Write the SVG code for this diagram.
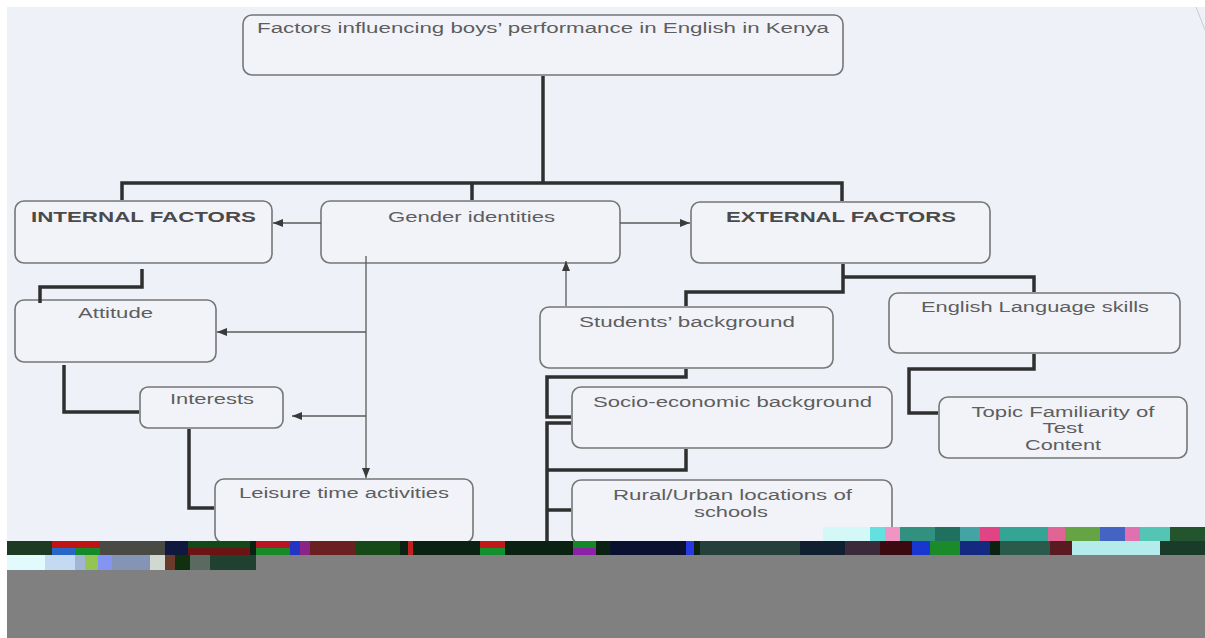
<svg xmlns="http://www.w3.org/2000/svg" width="1205" height="638" viewBox="0 0 1205 638">
<defs>
<marker id="ah" viewBox="0 0 10 8" refX="10" refY="4" markerWidth="11" markerHeight="8" markerUnits="userSpaceOnUse" orient="auto"><path d="M0,0 L10,4 L0,8 z" fill="#3a3a3a"/></marker>
</defs>
<style>
.box{fill:#f1f3f8;stroke:#767676;stroke-width:1.6}
.t{font-family:"Liberation Sans",Arial,sans-serif;font-size:14px;fill:#5e5e5e;text-anchor:middle}
.b{font-weight:bold;fill:#4a4a4a}
.thick{fill:none;stroke:#2f2f2f;stroke-width:3.5;stroke-linejoin:miter}
.thin{fill:none;stroke:#5a5a5a;stroke-width:1.3}
</style>
<rect x="0" y="0" width="1205" height="638" fill="#ffffff"/>
<rect x="7" y="7" width="1198" height="534" fill="#eef1f7"/>
<path d="M1196 7 L1205 30" stroke="#c8ccd4" stroke-width="1"/>

<g id="n-title"><rect class="box" x="243" y="15" width="600" height="60" rx="9"/><text class="t" x="543" y="33" textLength="572" lengthAdjust="spacingAndGlyphs">Factors influencing boys’ performance in English in Kenya</text></g>
<g id="n-internal"><rect class="box" x="15" y="201" width="257" height="62" rx="9"/><text class="t b" x="143.5" y="222" textLength="225" lengthAdjust="spacingAndGlyphs">INTERNAL FACTORS</text></g>
<g id="n-gender"><rect class="box" x="321" y="201" width="299" height="62" rx="9"/><text class="t" x="471.5" y="222" textLength="167" lengthAdjust="spacingAndGlyphs">Gender identities</text></g>
<g id="n-external"><rect class="box" x="691" y="202" width="299" height="61" rx="9"/><text class="t b" x="841" y="222" textLength="230" lengthAdjust="spacingAndGlyphs">EXTERNAL FACTORS</text></g>
<g id="n-attitude"><rect class="box" x="15" y="300" width="201" height="62" rx="9"/><text class="t" x="115.5" y="318" textLength="75" lengthAdjust="spacingAndGlyphs">Attitude</text></g>
<g id="n-interests"><rect class="box" x="140" y="387" width="143" height="41" rx="8"/><text class="t" x="212" y="404" textLength="84" lengthAdjust="spacingAndGlyphs">Interests</text></g>
<g id="n-leisure"><rect class="box" x="215" y="479" width="258" height="64" rx="9"/><text class="t" x="344" y="498" textLength="210" lengthAdjust="spacingAndGlyphs">Leisure time activities</text></g>
<g id="n-students"><rect class="box" x="540" y="307" width="293" height="61" rx="9"/><text class="t" x="687" y="327" textLength="216" lengthAdjust="spacingAndGlyphs">Students’ background</text></g>
<g id="n-socio"><rect class="box" x="572" y="387" width="320" height="61" rx="9"/><text class="t" x="732.5" y="407" textLength="279" lengthAdjust="spacingAndGlyphs">Socio-economic background</text></g>
<g id="n-rural"><rect class="box" x="572" y="480" width="320" height="64" rx="9"/><text class="t" x="732.5" y="500" textLength="239" lengthAdjust="spacingAndGlyphs">Rural/Urban locations of</text><text class="t" x="731" y="517" textLength="74" lengthAdjust="spacingAndGlyphs">schools</text></g>
<g id="n-english"><rect class="box" x="889" y="293" width="291" height="60" rx="9"/><text class="t" x="1035" y="312" textLength="228" lengthAdjust="spacingAndGlyphs">English Language skills</text></g>
<g id="n-topic"><rect class="box" x="939" y="397" width="248" height="61" rx="9"/><text class="t" x="1063" y="417" textLength="183" lengthAdjust="spacingAndGlyphs">Topic Familiarity of</text><text class="t" x="1063" y="433" textLength="41" lengthAdjust="spacingAndGlyphs">Test</text><text class="t" x="1063" y="450" textLength="76" lengthAdjust="spacingAndGlyphs">Content</text></g>

<g id="connectors">
<path class="thick" d="M543 76 V183"/>
<path class="thick" d="M122 200 V183 H842 V201"/>
<path class="thick" d="M472 183 V200"/>
<path class="thick" d="M142 269 V287 H40 V303"/>
<path class="thick" d="M64 365 V412 H139"/>
<path class="thick" d="M189 429 V508 H214"/>
<path class="thick" d="M843 264 V292 H686 V306"/>
<path class="thick" d="M843 277 H1034 V292"/>
<path class="thick" d="M686 369 V377 H547 V417 H571"/>
<path class="thick" d="M571 423 H547 V541"/>
<path class="thick" d="M686 449 V470 H547"/>
<path class="thick" d="M547 510 H571"/>
<path class="thick" d="M1034 354 V369 H909 V413 H938"/>
<path class="thin" d="M321 223 H273" marker-end="url(#ah)"/>
<path class="thin" d="M620 223 H690" marker-end="url(#ah)"/>
<path class="thin" d="M366 256 V478" marker-end="url(#ah)"/>
<path class="thin" d="M366 332 H217" marker-end="url(#ah)"/>
<path class="thin" d="M366 416 H292" marker-end="url(#ah)"/>
<path class="thin" d="M566 306 V261" marker-end="url(#ah)"/>
</g>

<g id="scan-damage">
<rect x="7" y="555" width="1198" height="83" fill="#808080"/>
<rect x="7" y="541" width="1198" height="14" fill="#0b2212"/>
<rect x="7" y="541" width="45" height="14" fill="#1d3a22"/>
<rect x="52" y="541" width="48" height="7" fill="#c01414"/>
<rect x="52" y="548" width="23" height="7" fill="#2a66c8"/>
<rect x="75" y="548" width="25" height="7" fill="#148a2a"/>
<rect x="100" y="541" width="65" height="14" fill="#4a4a44"/>
<rect x="165" y="541" width="23" height="14" fill="#101840"/>
<rect x="188" y="541" width="62" height="7" fill="#114a18"/>
<rect x="188" y="548" width="62" height="7" fill="#6a1414"/>
<rect x="256" y="541" width="34" height="7" fill="#b81424"/>
<rect x="256" y="548" width="34" height="7" fill="#168a26"/>
<rect x="290" y="541" width="10" height="14" fill="#2434c4"/>
<rect x="300" y="541" width="10" height="14" fill="#8a2488"/>
<rect x="310" y="541" width="45" height="14" fill="#6a2020"/>
<rect x="355" y="541" width="45" height="14" fill="#154a18"/>
<rect x="408" y="541" width="5" height="14" fill="#c02020"/>
<rect x="480" y="541" width="25" height="7" fill="#c41818"/>
<rect x="480" y="548" width="25" height="7" fill="#12902e"/>
<rect x="573" y="541" width="23" height="7" fill="#128a24"/>
<rect x="573" y="548" width="23" height="7" fill="#8a22a6"/>
<rect x="610" y="541" width="76" height="14" fill="#0a1030"/>
<rect x="686" y="541" width="8" height="14" fill="#2838e0"/>
<rect x="700" y="541" width="100" height="14" fill="#25403a"/>
<rect x="800" y="541" width="45" height="14" fill="#102030"/>
<rect x="845" y="541" width="35" height="14" fill="#3a2a3a"/>
<rect x="880" y="541" width="32" height="14" fill="#3a0a10"/>
<rect x="912" y="541" width="18" height="14" fill="#1a36d0"/>
<rect x="930" y="541" width="30" height="14" fill="#1a8a2a"/>
<rect x="960" y="541" width="30" height="14" fill="#142a80"/>
<rect x="1000" y="541" width="50" height="14" fill="#2a5a4a"/>
<rect x="1050" y="541" width="22" height="14" fill="#5a1a22"/>
<rect x="1072" y="541" width="88" height="14" fill="#b4ecec"/>
<rect x="1160" y="541" width="45" height="14" fill="#1a3a2a"/>
<rect x="823" y="527" width="47" height="14" fill="#d4f8f8"/>
<rect x="870" y="527" width="15" height="14" fill="#64e0e0"/>
<rect x="885" y="527" width="15" height="14" fill="#f094c4"/>
<rect x="900" y="527" width="35" height="14" fill="#32907e"/>
<rect x="935" y="527" width="25" height="14" fill="#207060"/>
<rect x="960" y="527" width="20" height="14" fill="#44a4a4"/>
<rect x="980" y="527" width="20" height="14" fill="#e04484"/>
<rect x="1000" y="527" width="48" height="14" fill="#34a494"/>
<rect x="1048" y="527" width="17" height="14" fill="#e06494"/>
<rect x="1065" y="527" width="35" height="14" fill="#64a444"/>
<rect x="1100" y="527" width="25" height="14" fill="#4464c4"/>
<rect x="1125" y="527" width="15" height="14" fill="#e070b0"/>
<rect x="1140" y="527" width="30" height="14" fill="#54c4b4"/>
<rect x="1170" y="527" width="35" height="14" fill="#22542e"/>
<rect x="7" y="555" width="38" height="15" fill="#e2fafc"/>
<rect x="45" y="555" width="30" height="15" fill="#c4daf2"/>
<rect x="75" y="555" width="10" height="15" fill="#a4b4d4"/>
<rect x="85" y="555" width="13" height="15" fill="#94c454"/>
<rect x="98" y="555" width="14" height="15" fill="#8494f2"/>
<rect x="112" y="555" width="38" height="15" fill="#8494b4"/>
<rect x="150" y="555" width="15" height="15" fill="#d0d8d0"/>
<rect x="165" y="555" width="10" height="15" fill="#6a3a2a"/>
<rect x="175" y="555" width="15" height="15" fill="#103010"/>
<rect x="190" y="555" width="20" height="15" fill="#5a6a60"/>
<rect x="210" y="555" width="46" height="15" fill="#204030"/>
</g>
</svg>
